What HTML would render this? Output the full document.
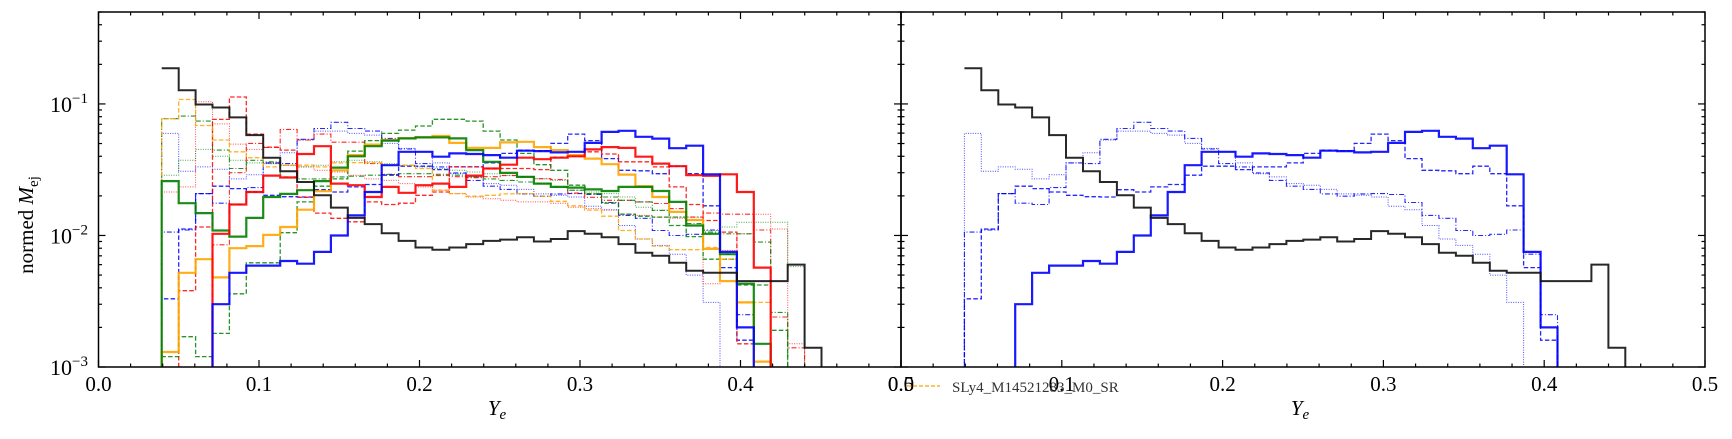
<!DOCTYPE html>
<html><head><meta charset="utf-8"><style>
html,body{margin:0;padding:0;background:#fff;}
svg{display:block;font-family:"Liberation Serif",serif;}
</style></head><body>
<svg id="chart" width="1732" height="439" viewBox="0 0 1732 439" xmlns="http://www.w3.org/2000/svg">
<defs>
<clipPath id="clipL"><rect x="98.5" y="12" width="802.5" height="355"/></clipPath>
<clipPath id="clipR"><rect x="901" y="12" width="804" height="355"/></clipPath>
</defs>
<g id="panelL"></g>
<g id="panelR"></g>
<text transform="translate(33,225) rotate(-90)" text-anchor="middle" font-size="21">normed <tspan font-style="italic">M</tspan><tspan font-size="15" dy="5">ej</tspan></text>
<text x="497" y="415" text-anchor="middle" font-size="21" font-style="italic">Y<tspan font-size="15" dy="4">e</tspan></text>
<text x="1300" y="415" text-anchor="middle" font-size="21" font-style="italic">Y<tspan font-size="15" dy="4">e</tspan></text>
<g>
<line x1="907" y1="386" x2="940" y2="386" stroke="#ffa500" stroke-width="1.3" stroke-dasharray="4,2"/>
<text x="952" y="392" font-size="15" fill="#333">SLy4_M14521283_M0_SR</text>
</g>
</svg>
<script>
// ---- data (normed M_ej per Y_e bin) ----
const binStart = 0.0394;
const binWidth = 0.01054;
const xTickLabels = ["0.0","0.1","0.2","0.3","0.4","0.5"];
const yTickExponents = [-3,-2,-1];
const blackSolid = [0.187,0.127,0.099,0.094,0.079,0.058,0.039,0.0308,0.0255,0.0202,0.0163,0.0136,0.0122,0.0104,0.0091,0.0081,0.0078,0.0081,0.0086,0.0091,0.0093,0.0097,0.0090,0.0094,0.0108,0.0103,0.0097,0.0086,0.0074,0.0070,0.0062,0.0054,0.0052,0.0052,0.0045,0.0045,0.0045,0.0060,0.0014];
const blueSolid = [0,0,0,0.0030,0.0052,0.0059,0.0059,0.0064,0.0061,0.0075,0.0100,0.0142,0.0214,0.0342,0.0433,0.0433,0.0397,0.0421,0.0416,0.0408,0.039,0.0441,0.0438,0.0428,0.0433,0.0506,0.0613,0.0625,0.0563,0.0545,0.0461,0.0481,0.0292,0.0075,0.0020];
const blueDashed = [0.0033,0.0112,0.0208,0.0237,0.0227,0.0214,0.0202,0.0197,0.0196,0.0223,0.0214,0.0234,0.0244,0.0287,0.0336,0.0336,0.0317,0.0332,0.0332,0.0356,0.0421,0.0446,0.0441,0.0501,0.059,0.0526,0.0384,0.0313,0.031,0.0295,0.0336,0.0295,0.0168,0.0057,0.0016];
const blueDashDot = [0.0106,0.0110,0.0208,0.0176,0.0172,0.0231,0.0356,0.0352,0.0538,0.065,0.0725,0.065,0.0622,0.0547,0.0454,0.0352,0.0332,0.0299,0.0262,0.0237,0.0224,0.0207,0.0199,0.0207,0.0208,0.0205,0.0178,0.0142,0.0135,0.0109,0.0100,0.0102,0.0110,0.0072,0.0025];
const blueDotted = [0.0597,0.0308,0.0332,0.0319,0.0269,0.0289,0.0356,0.0426,0.0532,0.0622,0.0622,0.0597,0.058,0.0501,0.0459,0.0433,0.0356,0.0295,0.0279,0.0248,0.0241,0.0224,0.0207,0.0202,0.0196,0.0167,0.0157,0.0119,0.0094,0.0084,0.0072,0.0050,0.0031];
const redSolid = [0,0,0,0.0103,0.0172,0.0214,0.0285,0.0276,0.0416,0.0477,0.0248,0.0241,0.0196,0.0234,0.0211,0.0241,0.0248,0.0234,0.0285,0.0323,0.0345,0.039,0.038,0.039,0.040,0.0451,0.047,0.0463,0.0397,0.0352,0.0336,0.0287,0.0284,0.0292,0.0214,0.0057];
const redDashed = [0,0.0038,0.0116,0.0763,0.113,0.059,0.047,0.0446,0.0195,0.0148,0.0135,0.0127,0.018,0.0172,0.0176,0.0202,0.0214,0.0332,0.0332,0.0323,0.0323,0.0323,0.0317,0.0393,0.040,0.0433,0.0416,0.0363,0.0363,0.0332,0.0234,0.0172,0.013,0.0106,0.0015];
const redDashDot = [0,0,0,0.0085,0.030,0.0501,0.0467,0.064,0.0532,0.059,0.0512,0.0512,0.0352,0.029,0.028,0.028,0.0285,0.028,0.0275,0.028,0.0285,0.028,0.027,0.0266,0.021,0.0195,0.0185,0.0185,0.018,0.0175,0.016,0.0138,0.0148,0.0145,0.0145,0.0110,0.0024,0.0014];
const redDotted = [0.0214,0.0234,0.104,0.0705,0.0495,0.0451,0.0352,0.0342,0.0332,0.0313,0.0304,0.0287,0.0269,0.0262,0.0248,0.0234,0.0221,0.0208,0.0196,0.019,0.0185,0.018,0.018,0.0176,0.0164,0.016,0.0156,0.0145,0.0142,0.0138,0.0135,0.013,0.0043,0.0077,0.0103,0.0145,0.0112,0.0015];
const greenSolid = [0.0259,0.0176,0.0148,0.0109,0.0098,0.0136,0.0196,0.0207,0.0221,0.0259,0.0328,0.040,0.0477,0.0526,0.0547,0.0557,0.0557,0.0547,0.0446,0.0363,0.0299,0.0279,0.0248,0.0234,0.0231,0.0224,0.0218,0.0234,0.0234,0.0218,0.0180,0.0119,0.0103,0.0072,0.0043,0.0015];
const greenDashed = [0.0012,0.0017,0.0012,0.0018,0.0036,0.0062,0.0062,0.0105,0.018,0.0237,0.0269,0.0438,0.0526,0.0597,0.0632,0.068,0.0764,0.0764,0.0741,0.0622,0.0532,0.0421,0.0345,0.0313,0.0241,0.0207,0.0176,0.0145,0.0140,0.0138,0.0119,0.0098,0.0066,0.0066,0.0042,0.0042,0.0019];
const greenDashDot = [0.0772,0.0808,0.0741,0.0446,0.0323,0.0373,0.0363,0.0279,0.0269,0.0269,0.0279,0.0282,0.0287,0.0292,0.0295,0.0295,0.0292,0.0287,0.0279,0.0269,0.0262,0.0255,0.0248,0.0234,0.0221,0.0208,0.0196,0.0185,0.018,0.0155,0.0138,0.0123,0.0106,0.0103,0.0103,0.0089,0.0026];
const greenDotted = [0.0287,0.0373,0.0451,0.040,0.0373,0.0356,0.0352,0.0342,0.0332,0.0342,0.0363,0.0373,0.0363,0.0352,0.0342,0.0332,0.0323,0.0313,0.0304,0.0295,0.0287,0.0279,0.0269,0.0262,0.0221,0.0214,0.0208,0.0196,0.0164,0.0156,0.0138,0.0138,0.0109,0.0116,0.0126,0.0126,0.0126,0.0058];
const orangeSolid = [0.0013,0.0052,0.0066,0.0048,0.0080,0.0083,0.0101,0.0116,0.0157,0.0217,0.0313,0.0408,0.0491,0.0532,0.0547,0.0557,0.057,0.0506,0.0463,0.0463,0.051,0.0515,0.047,0.0446,0.0408,0.0384,0.0348,0.029,0.0237,0.0196,0.0151,0.0131,0.0079,0.0045,0.0031,0.0011];
const orangeDashed = [0.0772,0.108,0.0685,0.0532,0.0433,0.039,0.0332,0.0342,0.0342,0.0332,0.0356,0.0358,0.0356,0.0342,0.0342,0.0323,0.0221,0.0208,0.0199,0.0202,0.0207,0.0208,0.0199,0.0182,0.0168,0.0156,0.014,0.0109,0.0094,0.0083,0.0078,0.0078,0.0081,0.0066,0.0031,0.0031];

// ---- layout ----
const NS = "http://www.w3.org/2000/svg";
const yTop = 12, yBot = 367, yMin = 1e-3, yMax = 0.5;
const panels = [
  {g: document.getElementById('panelL'), x0: 98.5, x1: 901, clip: 'clipL', side: 'left'},
  {g: document.getElementById('panelR'), x0: 901, x1: 1705, clip: 'clipR', side: 'right'}
];
function yScale(v){ return yBot - (Math.log10(v) - Math.log10(yMin)) / (Math.log10(yMax) - Math.log10(yMin)) * (yBot - yTop); }
function xScaleFor(p){ return function(x){ return p.x0 + x / 0.5 * (p.x1 - p.x0); }; }

const styles = {
  solid: {w: 2.2, dash: null, op: 0.9},
  dashed: {w: 1.3, dash: "4.5,2.2", op: 0.85},
  dashdot: {w: 1.1, dash: "5,2,1,2", op: 0.85},
  dotted: {w: 1.0, dash: "1,1.4", op: 0.7}
};
const leftSeries = [
  ['blue-dotted', blueDotted, '#0000ff', 'dotted'], ['red-dotted', redDotted, '#ff0000', 'dotted'], ['green-dotted', greenDotted, '#008000', 'dotted'],
  ['blue-dashdot', blueDashDot, '#0000ff', 'dashdot'], ['red-dashdot', redDashDot, '#ff0000', 'dashdot'], ['green-dashdot', greenDashDot, '#008000', 'dashdot'],
  ['blue-dashed', blueDashed, '#0000ff', 'dashed'], ['red-dashed', redDashed, '#ff0000', 'dashed'], ['green-dashed', greenDashed, '#008000', 'dashed'], ['orange-dashed', orangeDashed, '#ffa500', 'dashed'],
  ['orange-solid', orangeSolid, '#ffa500', 'solid'], ['green-solid', greenSolid, '#008000', 'solid'], ['red-solid', redSolid, '#ff0000', 'solid'], ['blue-solid', blueSolid, '#0000ff', 'solid'],
  ['black-solid', blackSolid, '#111111', 'solid']
];
const rightSeries = [
  ['blue-dotted', blueDotted, '#0000ff', 'dotted'], ['blue-dashdot', blueDashDot, '#0000ff', 'dashdot'], ['blue-dashed', blueDashed, '#0000ff', 'dashed'],
  ['blue-solid', blueSolid, '#0000ff', 'solid'], ['black-solid', blackSolid, '#111111', 'solid']
];

function mk(tag, attrs){ const e = document.createElementNS(NS, tag); for (const k in attrs) e.setAttribute(k, attrs[k]); return e; }

function drawSeries(p, list){
  const xs = xScaleFor(p);
  const g = mk('g', {'clip-path': 'url(#' + p.clip + ')'});
  p.g.appendChild(g);
  list.forEach(function(s){
    const vals = s[1];
    const low = yBot + 10;
    const noLead = (s[0] === 'black-solid');
    let d = '';
    for (let i = 0; i < vals.length; i++){
      const xa = xs(binStart + i * binWidth), xb = xs(binStart + (i + 1) * binWidth);
      const y = vals[i] > 0 ? yScale(vals[i]) : low;
      if (i === 0) d = noLead ? ('M' + xa.toFixed(1) + ',' + y.toFixed(1)) : ('M' + xa.toFixed(1) + ',' + low + ' L' + xa.toFixed(1) + ',' + y.toFixed(1));
      else d += ' L' + xa.toFixed(1) + ',' + y.toFixed(1);
      d += ' L' + xb.toFixed(1) + ',' + y.toFixed(1);
    }
    d += ' L' + xs(binStart + vals.length * binWidth).toFixed(1) + ',' + low;
    const st = styles[s[3]];
    const path = mk('path', {d: d, fill: 'none', stroke: s[2], 'stroke-width': s[0] === 'black-solid' ? 2.0 : st.w, 'stroke-opacity': st.op});
    if (st.dash) path.setAttribute('stroke-dasharray', st.dash);
    
    
    g.appendChild(path);
  });
}

function drawAxes(p){
  const xs = xScaleFor(p);
  const g = mk('g', {stroke: '#000', 'stroke-width': 1.2});
  
  
  p.g.appendChild(g);
  const frame = mk('rect', {x: p.x0, y: yTop, width: p.x1 - p.x0, height: yBot - yTop, fill: 'none', 'stroke-width': 1.5});
  
  
  g.appendChild(frame);
  for (let i = 0; i <= 25; i++){
    const v = i * 0.02, x = xs(v), major = (i % 5 === 0);
    const L = major ? 7 : 3.5;
    g.appendChild(mk('line', {x1: x, y1: yBot, x2: x, y2: yBot - L}));
    g.appendChild(mk('line', {x1: x, y1: yTop, x2: x, y2: yTop + L}));
  }
  xTickLabels.forEach(function(lab, i){
    const t = mk('text', {x: xs(i * 0.1), y: 391, 'text-anchor': 'middle', 'font-size': 21, stroke: 'none', fill: '#000'});
    t.textContent = lab;
    
    
    g.appendChild(t);
  });
  for (let e = -3; e <= -1; e++){
    for (let m = 1; m <= 9; m++){
      const v = m * Math.pow(10, e);
      if (v > yMax) continue;
      const y = yScale(v), L = m === 1 ? 7 : 3.5;
      g.appendChild(mk('line', {x1: p.x0, y1: y, x2: p.x0 + L, y2: y}));
      g.appendChild(mk('line', {x1: p.x1, y1: y, x2: p.x1 - L, y2: y}));
    }
  }
  if (p.side === 'left'){
    yTickExponents.forEach(function(ex){
      const y = yScale(Math.pow(10, ex));
      const t = mk('text', {x: 88, y: y + 8, 'text-anchor': 'end', 'font-size': 22, stroke: 'none', fill: '#000'});
      const a = mk('tspan', {}); a.textContent = '10';
      const b = mk('tspan', {dy: -9, 'font-size': 15}); b.textContent = '\u2212' + Math.abs(ex);
      t.appendChild(a); t.appendChild(b);
      
      
      g.appendChild(t);
    });
  }
}

drawSeries(panels[0], leftSeries);
drawSeries(panels[1], rightSeries);
drawAxes(panels[0]);
drawAxes(panels[1]);
</script>
</body></html>
